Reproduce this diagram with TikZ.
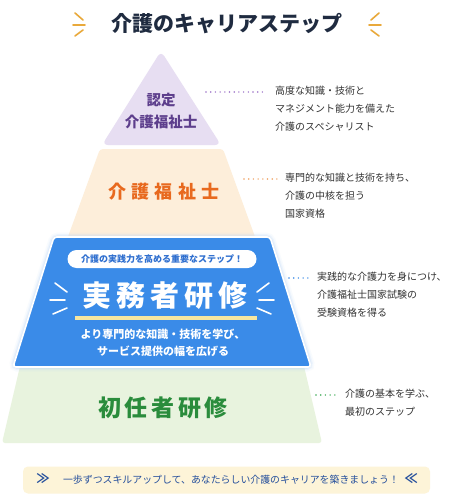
\documentclass[tikz,border=0pt]{standalone}
\usepackage{fontspec}
\setmainfont{Noto Sans CJK JP}
\usetikzlibrary{positioning}
\definecolor{navy}{HTML}{1F2B40}
\definecolor{spark}{HTML}{E9A93B}
\definecolor{purFill}{HTML}{E7DEF2}
\definecolor{purText}{HTML}{5D3E8C}
\definecolor{purDot}{HTML}{9C72C8}
\definecolor{orFill}{HTML}{FDEEDA}
\definecolor{orText}{HTML}{E8691E}
\definecolor{orDot}{HTML}{F0A162}
\definecolor{blFill}{HTML}{3A8BE8}
\definecolor{blText}{HTML}{2F6FCF}
\definecolor{blGlow}{HTML}{BFD9F8}
\definecolor{grFill}{HTML}{E8F3DE}
\definecolor{grText}{HTML}{2A8C3C}
\definecolor{grDot}{HTML}{3DAA55}
\definecolor{barY}{HTML}{F6E6A0}
\definecolor{banFill}{HTML}{FDF4D8}
\definecolor{banText}{HTML}{254F9C}
\definecolor{txtgray}{HTML}{333333}
\tikzset{
  desc/.style={anchor=north west, inner sep=0pt, align=left, text=txtgray,
    font=\fontsize{10}{18}\selectfont},
  leader/.style={line width=1.6pt, line cap=round, dash pattern=on 0pt off 4.7pt, shorten >=8pt},
  sparkline/.style={line width=1.6pt, line cap=round},
}
\begin{document}
\begin{tikzpicture}[x=1pt,y=-1pt]
    \useasboundingbox[fill=white] (0,0) rectangle (455,500);
    % title
    \node[text=navy, font=\fontsize{21}{21}\selectfont\bfseries] (title) at (227,24) {介護のキャリアステップ};
    \draw[sparkline, spark] (75,13) -- (83,20) (73,25) -- (85,25) (75,36) -- (83,30);
    \draw[sparkline, spark] (379,13) -- (371,20) (381,25) -- (369,25) (379,36) -- (371,30);
    % tiers
    \fill[grFill, rounded corners=3] (21,362) -- (303,362) -- (322,443) -- (2,443) -- cycle;
    \fill[orFill, rounded corners=3] (100,149) -- (223,149) -- (258,245) -- (65,245) -- cycle;
    \fill[purFill, rounded corners=6] (161,51) -- (221,145) -- (102,145) -- cycle;
    % blue tier with glow
    \foreach \w/\o in {9/0.10, 6/0.18, 3.5/0.3}
        \draw[blGlow, line width=\w pt, opacity=\o, rounded corners=4] (54,237) -- (270,237) -- (311,367) -- (13,367) -- cycle;
    \draw[fill=blFill, draw=white, line width=1.6pt, rounded corners=3] (54,237) -- (270,237) -- (311,367) -- (13,367) -- cycle;
    % labels
    \node[text=purText, align=center, font=\fontsize{14.5}{22}\selectfont\bfseries] (certLbl) at (161,111) {認定\\介護福祉士};
    \node[text=orText, font=\fontsize{18}{18}\selectfont\bfseries\addfontfeature{LetterSpace=28}] (kaigoLbl) at (164,192) {介護福祉士};
    \node[fill=white, rounded corners=9, minimum width=189pt, minimum height=18pt, inner sep=0pt,
        text=blText, font=\fontsize{9}{9}\selectfont\bfseries] (pill) at (162,259) {介護の実践力を高める重要なステップ！};
    \node[text=white, font=\fontsize{29}{29}\selectfont\bfseries\addfontfeature{LetterSpace=18}] (jitsuLbl) at (165,296) {実務者研修};
    \fill[barY] (75,316) rectangle (257,320);
    \node[text=white, align=center, font=\fontsize{11}{17}\selectfont\bfseries] (jitsuSub) at (163,343)
        {より専門的な知識・技術を学び、\\サービス提供の幅を広げる};
    \draw[sparkline, white] (55,283) -- (67,292) (50,300) -- (65,300) (53,314) -- (67,308);
    \draw[sparkline, white] (269,283) -- (257,292) (274,300) -- (259,300) (271,314) -- (257,308);
    \node[text=grText, font=\fontsize{23}{23}\selectfont\bfseries\addfontfeature{LetterSpace=16}] (shoninLbl) at (163,408) {初任者研修};
    % descriptions
    \node[desc] (dCert) at (275,86) {高度な知識・技術と\\マネジメント能力を備えた\\介護のスペシャリスト};
    \node[desc] (dKaigo) at (285,173) {専門的な知識と技術を持ち、\\介護の中核を担う\\国家資格};
    \node[desc] (dJitsu) at (317,272) {実践的な介護力を身につけ、\\介護福祉士国家試験の\\受験資格を得る};
    \node[desc] (dShonin) at (345,389) {介護の基本を学ぶ、\\最初のステップ};
    \coordinate (lCert) at (206,92);
    \coordinate (lKaigo) at (244,179);
    \coordinate (lJitsu) at (289,278);
    \coordinate (lShonin) at (316,395);
    \draw[leader, purDot] (lCert) -- (dCert.west |- lCert);
    \draw[leader, orDot] (lKaigo) -- (dKaigo.west |- lKaigo);
    \draw[leader, blFill] (lJitsu) -- (dJitsu.west |- lJitsu);
    \draw[leader, grDot] (lShonin) -- (dShonin.west |- lShonin);
    % banner
    \node[fill=banFill, rounded corners=5, minimum width=407pt, minimum height=27pt] (banner) at (226.5,480) {};
    \node[text=banText, font=\fontsize{9.9}{9.9}\selectfont] (banTxt) at (231,480)
        {一歩ずつスキルアップして、あなたらしい介護のキャリアを築きましょう！};
    \node[text=banText, font=\fontsize{13}{13}\selectfont\bfseries] (chevL) at (43,479) {≫};
    \node[text=banText, font=\fontsize{13}{13}\selectfont\bfseries] (chevR) at (411,479) {≪};
\end{tikzpicture}
\end{document}
